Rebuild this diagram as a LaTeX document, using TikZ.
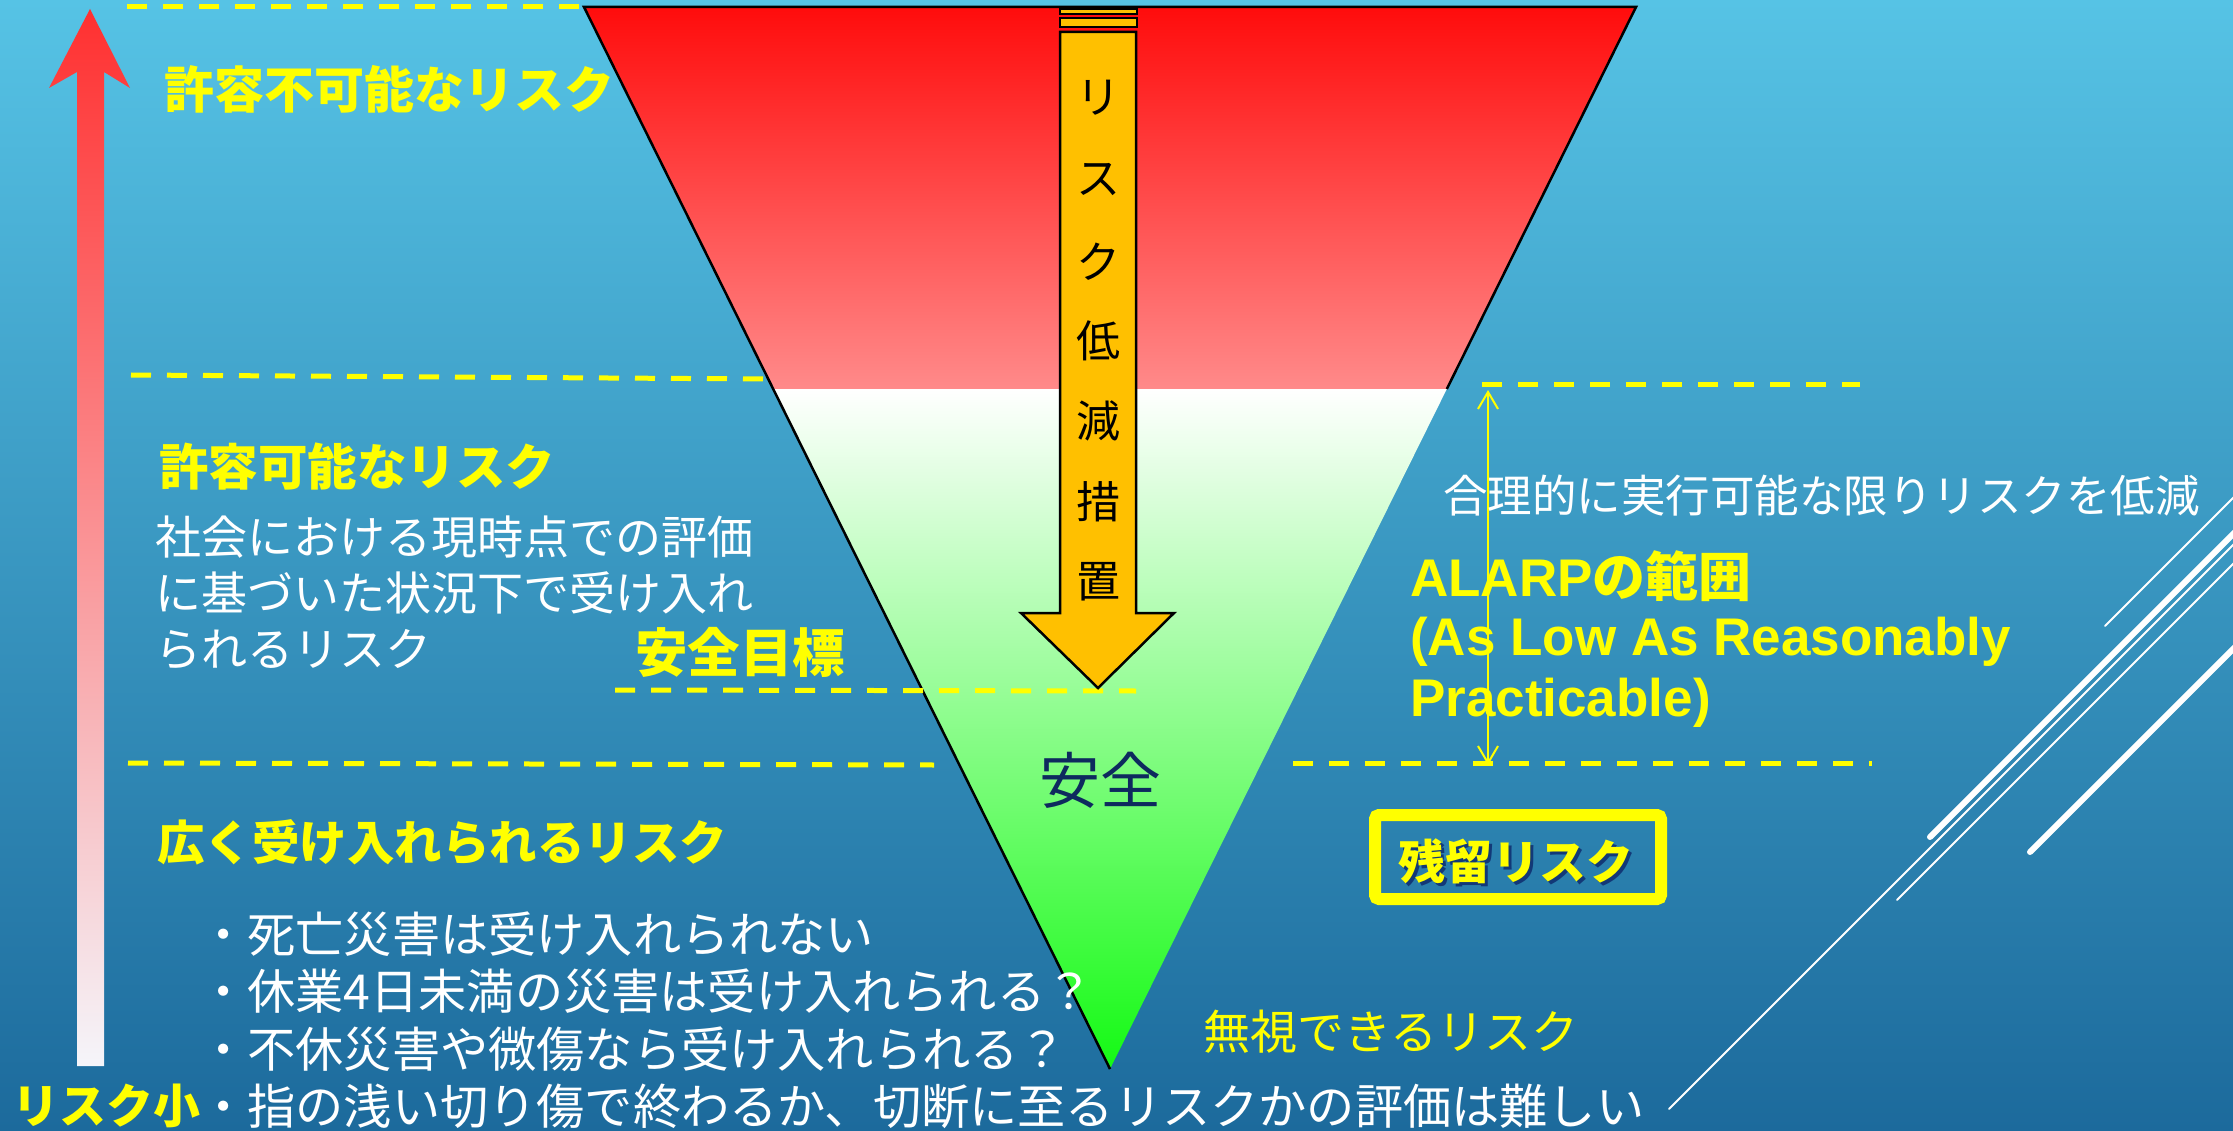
\documentclass[tikz,border=0pt]{standalone}
\usepackage{fontspec}
\setmainfont{Noto Sans CJK JP}
\newfontfamily\lat{Liberation Sans}
\usetikzlibrary{arrows.meta,calc}
\definecolor{ylw}{HTML}{FFFF00}
\definecolor{orng}{HTML}{FFC000}
\definecolor{navytxt}{HTML}{0E2A5E}
\definecolor{bgtop}{HTML}{56C3E5}
\definecolor{bgbot}{HTML}{1C6A9C}
\newcommand\myfs[1]{\fontsize{#1}{#1}\selectfont}
\tikzset{
  dline/.style={draw=ylw, line width=5pt, dash pattern=on 20pt off 16pt},
  ytxt/.style={text=ylw, inner sep=0pt, anchor=west},
  wtxt/.style={text=white, inner sep=0pt, anchor=west},
  vtxt/.style={text=black, inner sep=0pt, font={\myfs{44}}},
  deco/.style={draw=white, line cap=round},
}
\begin{document}
\begin{tikzpicture}[x=1pt,y=-1pt]
\useasboundingbox (0,0) rectangle (2233,1131);
\clip (0,0) rectangle (2233,1131);
% background
\shade[top color=bgtop, bottom color=bgbot] (0,0) rectangle (2233,1131);

% triangle coordinates
\coordinate (A) at (584,7);
\coordinate (B) at (1636,7);
\coordinate (C) at (1110,1069);
\coordinate (L) at ($(A)!0.3597!(C)$);
\coordinate (R) at ($(B)!0.3597!(C)$);

% dashed lines (left)
\coordinate (d1a) at (127,7);
\draw[dline] (d1a) -- (A);
\coordinate (d2a) at (131,375);
\coordinate (d2b) at (767,379);
\draw[dline] (d2a) -- (d2b);
\coordinate (d4a) at (128,763);
\coordinate (d4b) at (934,765);
\draw[dline] (d4a) -- (d4b);
% dashed lines (right)
\coordinate (d5a) at (1482,385);
\coordinate (d5b) at (1860,385);
\draw[dline] (d5a) -- (d5b);
\coordinate (d6a) at (1293,763);
\coordinate (d6b) at (1872,763);
\draw[dline] (d6a) -- (d6b);

% triangle
\shade[top color=white, middle color={rgb,255:red,200;green,255;blue,200}, bottom color={rgb,255:red,20;green,250;blue,20}] (L) -- (R) -- (C) -- cycle;
\shade[top color={rgb,255:red,255;green,12;blue,12}, bottom color={rgb,255:red,255;green,138;blue,138}] (A) -- (B) -- (R) -- (L) -- cycle;
\draw[black, line width=2.5pt, line join=miter] (R) -- (B) -- (A) -- (C);

% goal dashed line
\coordinate (d3a) at (615,690);
\coordinate (d3b) at (1136,691);
\draw[dline] (d3a) -- (d3b);

% orange arrow
\draw[black, line width=2.5pt, fill=orng] (1060,9) rectangle (1137,14);
\draw[black, line width=2.5pt, fill=orng] (1060,18) rectangle (1137,27);
\draw[black, line width=2.5pt, fill=orng, line join=miter]
  (1060,32) -- (1136,32) -- (1136,613) -- (1174,613) -- (1098,688) -- (1021,613) -- (1060,613) -- cycle;
\foreach \ch/\yy [count=\i] in {リ/98, ス/180, ク/262, 低/341, 減/421, 措/502, 置/582}
  \node[vtxt] (v\i) at (1098,\yy) {\ch};

% left arrow
\shade[top color={rgb,255:red,255;green,48;blue,48}, middle color={rgb,255:red,251;green,178;blue,184}, bottom color={rgb,255:red,245;green,245;blue,250}]
  (90,9) -- (130,88) -- (104,72) -- (104,1066) -- (77,1066) -- (77,72) -- (49,88) -- cycle;

% ALARP double arrow
\coordinate (aTop) at (1488,390);
\coordinate (aBot) at (1488,765);
\draw[ylw, line width=2pt, {Straight Barb[length=17pt,width=20pt]}-{Straight Barb[length=17pt,width=20pt]}] (aTop) -- (aBot);

% decorative diagonal lines
\coordinate (l1a) at (1669,1109); \coordinate (l1b) at (2245,533);
\coordinate (l2a) at (1930,837);  \coordinate (l2b) at (2245,522);
\coordinate (l3a) at (1897,900);  \coordinate (l3b) at (2245,552);
\coordinate (l4a) at (2030,852);  \coordinate (l4b) at (2245,637);
\coordinate (l5a) at (2105,626);  \coordinate (l5b) at (2245,486);
\draw[deco, line width=2pt] (l1a) -- (l1b);
\draw[deco, line width=6pt] (l2a) -- (l2b);
\draw[deco, line width=2pt] (l3a) -- (l3b);
\draw[deco, line width=6pt] (l4a) -- (l4b);
\draw[deco, line width=2pt] (l5a) -- (l5b);

% texts left
\node[ytxt, font={\myfs{50}\bfseries}] (unacc) at (164,89) {許容不可能なリスク};
\node[ytxt, font={\myfs{49.5}\bfseries}] (tol) at (159,467) {許容可能なリスク};
\node[wtxt, font={\myfs{46}}] (b1) at (155,537) {社会における現時点での評価};
\node[wtxt, font={\myfs{46}}] (b2) at (155,593) {に基づいた状況下で受け入れ};
\node[wtxt, font={\myfs{46}}] (b3) at (155,649) {られるリスク};
\node[ytxt, font={\myfs{52.5}\bfseries}] (goal) at (635,652) {安全目標};
\node[text=navytxt, inner sep=0pt, font={\myfs{61}}] (safe) at (1100,780) {安全};
\node[ytxt, font={\myfs{47.5}\bfseries}] (broad) at (157,842) {広く受け入れられるリスク};
\node[wtxt, font={\myfs{48.2}}] (p1) at (199,934) {・死亡災害は受け入れられない};
\node[wtxt, font={\myfs{48.2}}] (p2) at (199,991) {・休業4日未満の災害は受け入れられる？};
\node[wtxt, font={\myfs{48.2}}] (p3) at (199,1049) {・不休災害や微傷なら受け入れられる？};
\node[wtxt, font={\myfs{48.2}}] (p4) at (199,1106) {・指の浅い切り傷で終わるか、切断に至るリスクかの評価は難しい};
\node[text=ylw, inner sep=0pt, anchor=east, font={\myfs{47}\bfseries}] (small) at (201,1106) {リスク小};

% texts right
\node[wtxt, font={\myfs{44.5}}] (reason) at (1443,496) {合理的に実行可能な限りリスクを低減};
\node[ytxt, font={\myfs{53}\bfseries}] (al1) at (1410,576) {{\lat ALARP}の範囲};
\node[ytxt, font={\myfs{53}\bfseries\lat}] (al2) at (1410,642) {(As Low As Reasonably};
\node[ytxt, font={\myfs{53}\bfseries\lat}] (al3) at (1410,703) {Practicable)};
\draw[ylw, line width=12pt, rounded corners=4pt] (1375,815) rectangle (1661,899);
\node[text=black!70!blue, opacity=0.55, inner sep=0pt, font={\myfs{47}\bfseries}] (resshadow) at (1519,864) {残留リスク};
\node[text=ylw, inner sep=0pt, font={\myfs{47}\bfseries}] (resid) at (1516,861) {残留リスク};
\node[ytxt, font={\myfs{47}}] (negl) at (1203,1032) {無視できるリスク};
\end{tikzpicture}
\end{document}
